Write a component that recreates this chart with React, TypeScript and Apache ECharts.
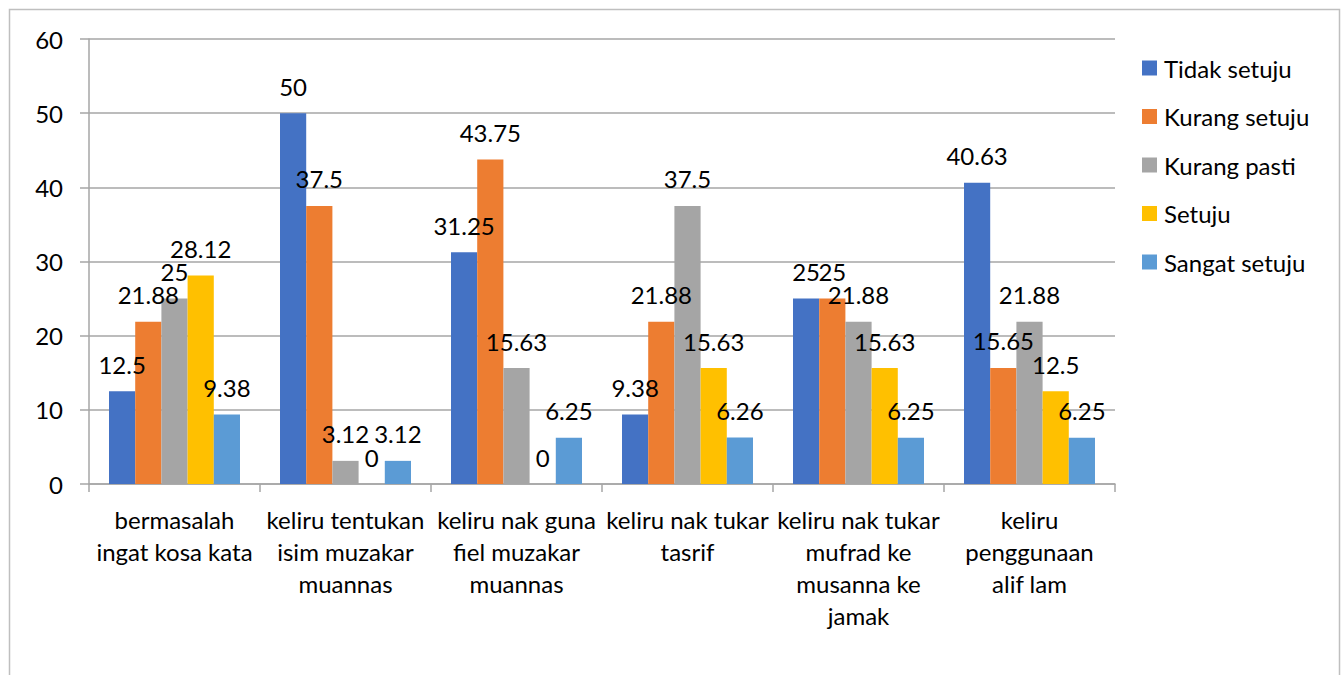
import React, { useEffect, useRef } from "react";
import * as echarts from "echarts";

const categories = [
  "bermasalah\ningat kosa kata",
  "keliru tentukan\nisim muzakar\nmuannas",
  "keliru nak guna\nfiel muzakar\nmuannas",
  "keliru nak tukar\ntasrif",
  "keliru nak tukar\nmufrad ke\nmusanna ke\njamak",
  "keliru\npenggunaan\nalif lam",
];

const tidakSetuju = [12.5, 50, 31.25, 9.38, 25, 40.63];
const kurangSetuju = [21.88, 37.5, 43.75, 21.88, 25, 15.65];
const kurangPasti = [25, 3.12, 15.63, 37.5, 21.88, 21.88];
const setuju = [28.12, 0, 0, 15.63, 15.63, 12.5];
const sangatSetuju = [9.38, 3.12, 6.25, 6.26, 6.25, 6.25];

const seriesNames = ["Tidak setuju", "Kurang setuju", "Kurang pasti", "Setuju", "Sangat setuju"];
const seriesValues = [tidakSetuju, kurangSetuju, kurangPasti, setuju, sangatSetuju];
const seriesColors = ["#4472C4", "#ED7D31", "#A5A5A5", "#FFC000", "#5B9BD5"];

const yTicks = { min: 0, max: 60, interval: 10 };

const FONT = "Lato";

export default function App() {
  const ref = useRef<HTMLDivElement>(null);
  useEffect(() => {
    document.body.style.margin = "0";
    const chart = echarts.init(ref.current!, null, { renderer: "svg" });
    chart.setOption({
      animation: false,
      backgroundColor: "#ffffff",
      textStyle: { fontFamily: FONT, color: "#000" },
      graphic: [
        {
          type: "rect",
          shape: { x: 9.5, y: 9.5, width: 1330, height: 700 },
          style: { fill: "none", stroke: "#bfbfbf", lineWidth: 1.5 },
          silent: true,
        },
      ],
      grid: {
        left: 89,
        right: 229,
        top: 39,
        bottom: 191,
        containLabel: false,
        outerBoundsMode: "none",
      },
      legend: {
        orient: "vertical",
        left: 1142,
        top: 56,
        padding: 0,
        itemWidth: 15,
        itemHeight: 15,
        itemGap: 24.5,
        icon: "rect",
        data: seriesNames,
        textStyle: { fontFamily: FONT, fontSize: 24, lineHeight: 24, color: "#000", padding: [0, 0, 0, 2] },
      },
      xAxis: {
        type: "category",
        data: categories,
        axisLine: { show: true, lineStyle: { color: "#a6a6a6", width: 1.5 } },
        axisTick: { show: true, length: 8, lineStyle: { color: "#a6a6a6", width: 1.5 } },
        axisLabel: {
          interval: 0,
          margin: 19,
          fontFamily: FONT,
          fontSize: 24,
          lineHeight: 32,
          color: "#000",
          align: "center",
        },
        splitLine: { show: false },
      },
      yAxis: {
        type: "value",
        min: yTicks.min,
        max: yTicks.max,
        interval: yTicks.interval,
        axisLine: { show: true, lineStyle: { color: "#a6a6a6", width: 1.5 } },
        axisTick: { show: true, length: 9, lineStyle: { color: "#a6a6a6", width: 1.5 } },
        axisLabel: { margin: 26, fontFamily: FONT, fontSize: 24, color: "#000" },
        splitLine: { show: true, lineStyle: { color: "#a6a6a6", width: 1.5 } },
      },
      series: seriesNames.map((name, i) => ({
        name,
        type: "bar",
        data: seriesValues[i],
        barGap: "0%",
        barCategoryGap: "23.4%",
        itemStyle: { color: seriesColors[i] },
        label: {
          show: true,
          position: "top",
          distance: 15,
          fontFamily: FONT,
          fontSize: 24,
          lineHeight: 24,
          color: "#000",
        },
      })),
    });
    return () => chart.dispose();
  }, []);
  return <div ref={ref} style={{ width: 1344, height: 675 }} />;
}
